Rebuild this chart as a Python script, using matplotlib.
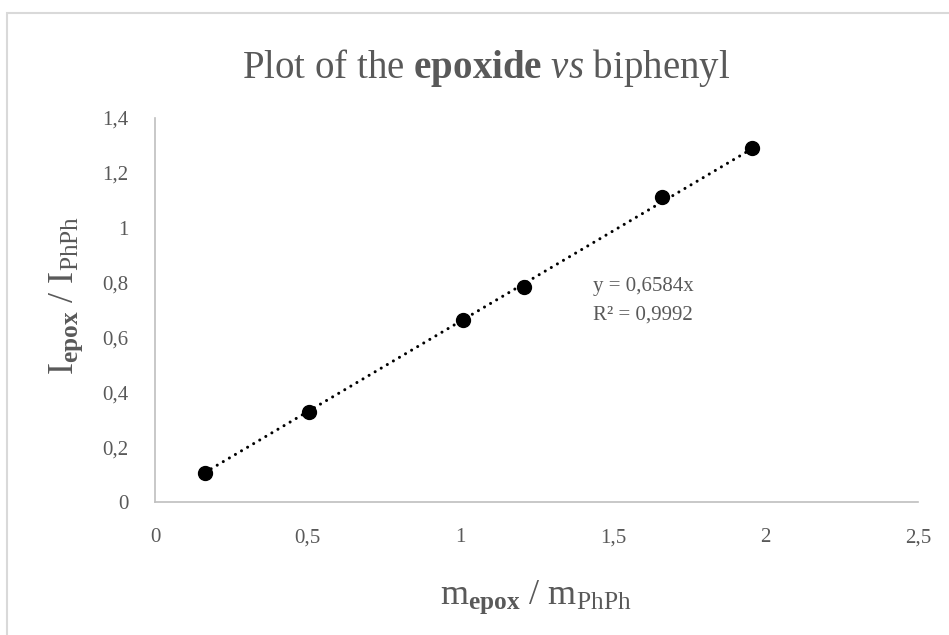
import numpy as np
import matplotlib
matplotlib.use("Agg")
import matplotlib.pyplot as plt
from matplotlib.ticker import FuncFormatter
from matplotlib.patches import Rectangle

# ------------------------------------------------------------------
# DATOS
# ------------------------------------------------------------------
m_ratio = [0.164, 0.505, 1.009, 1.208, 1.661, 1.956]
i_ratio = [0.104, 0.328, 0.665, 0.784, 1.112, 1.290]
slope = 0.6584
r2_text = "0,9992"
x_ticks = [0, 0.5, 1, 1.5, 2, 2.5]
y_ticks = [0, 0.2, 0.4, 0.6, 0.8, 1.0, 1.2, 1.4]

serif = "Liberation Serif"
grey = "#595959"

plt.rcParams["font.family"] = serif
plt.rcParams["mathtext.fontset"] = "custom"
plt.rcParams["mathtext.rm"] = serif
plt.rcParams["mathtext.it"] = serif + ":italic"
plt.rcParams["mathtext.bf"] = serif + ":bold"

fig = plt.figure(figsize=(9.49, 6.35), dpi=100)
ax = fig.add_axes([155 / 949, 1 - 502 / 635, (918 - 155) / 949, (502 - 118) / 635])

# marco del gráfico
fig.patches.append(Rectangle((7 / 949, -0.1), 1.2, 1 - 13 / 635 + 0.1,
                             transform=fig.transFigure, fill=False,
                             edgecolor="#d9d9d9", linewidth=1.5))

# línea de tendencia (y = slope * x)
xt = np.array([min(m_ratio), max(m_ratio)])
ax.plot(xt, slope * xt, color="black", linewidth=2.2,
        linestyle=(0, (0.01, 2.3)), dash_capstyle="round", zorder=2)
ax.plot(m_ratio, i_ratio, "o", color="black", markersize=10, zorder=3)

ax.set_xlim(0, 2.5)
ax.set_ylim(0, 1.4)
ax.set_xticks(x_ticks)
ax.set_yticks(y_ticks)
fmt = FuncFormatter(lambda v, p: f"{v:g}".replace(".", ","))
ax.xaxis.set_major_formatter(fmt)
ax.yaxis.set_major_formatter(fmt)
ax.tick_params(length=0, labelsize=15, labelcolor=grey)
ax.tick_params(axis="x", pad=19)
ax.tick_params(axis="y", pad=19)
for s in ["top", "right"]:
    ax.spines[s].set_visible(False)
for s in ["left", "bottom"]:
    ax.spines[s].set_color("#bfbfbf")
    ax.spines[s].set_linewidth(1.2)

ax.text(593 / 949, 1 - 286 / 635, f"y = {slope:g}x".replace(".", ","),
        transform=fig.transFigure, fontsize=15, color=grey, va="center")
ax.text(593 / 949, 1 - 315 / 635, f"R² = {r2_text}",
        transform=fig.transFigure, fontsize=15, color=grey, va="center")

fig.text(486 / 949, 1 - 68 / 635,
         r"Plot of the $\mathbf{epoxide}$ $\mathit{vs}$ biphenyl",
         ha="center", va="center", fontsize=28, color=grey)
fig.text(536 / 949, 1 - 597 / 635,
         r"m$_{\mathbf{epox}}$ / m$_{\mathrm{PhPh}}$",
         ha="center", va="center", fontsize=26, color=grey)
fig.text(66 / 949, 1 - 295 / 635,
         r"I$_{\mathbf{epox}}$ / I$_{\mathrm{PhPh}}$",
         ha="center", va="center", rotation=90, fontsize=26, color=grey)

fig.savefig("out.png", dpi=100)
